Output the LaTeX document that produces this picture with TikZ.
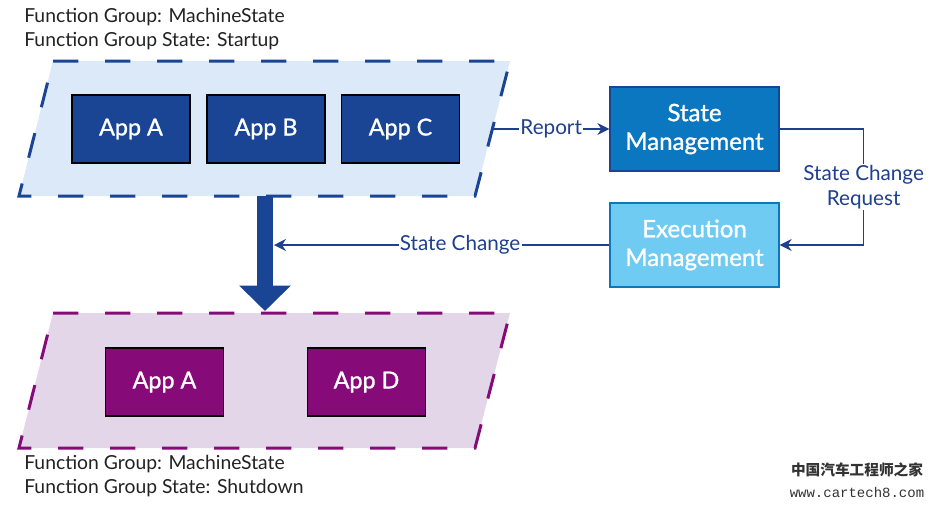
\documentclass[tikz,border=0pt]{standalone}
\usepackage{fontspec}
\setmainfont{Lato}
\setmonofont{Liberation Mono}
\newfontfamily\cjkfont{Noto Sans CJK SC}
\newfontfamily\boxfont{Lato}[FakeBold=1.2]
\usetikzlibrary{arrows.meta,positioning}
\definecolor{startupfill}{HTML}{DCE9F8}
\definecolor{startupblue}{HTML}{1A4594}
\definecolor{shutdownfill}{HTML}{E3D6E8}
\definecolor{shutdownpurple}{HTML}{870A79}
\definecolor{smfill}{HTML}{0B77C1}
\definecolor{emfill}{HTML}{6FCBF1}
\definecolor{linkblue}{HTML}{1F3F8F}
\definecolor{captiongray}{HTML}{222222}
\definecolor{markgray}{HTML}{333333}

\begin{document}
\begin{tikzpicture}[x=0.75pt,y=-0.75pt,
    group/.style={line width=2.25pt,dash pattern=on 19pt off 20pt},
    app/.style={draw=black,line width=1pt,minimum width=88.5pt,minimum height=51pt,
        inner sep=0pt,text=white,font=\boxfont\fontsize{17.5}{20}\selectfont},
    mgmt/.style={draw,line width=1pt,minimum width=126.75pt,minimum height=63pt,
        inner sep=0pt,align=center,text=white,font=\boxfont\fontsize{18}{21.5}\selectfont},
    link/.style={draw=linkblue,line width=0.9pt,-{Stealth[length=9pt,width=9pt]}},
    lbl/.style={fill=white,inner sep=1pt,text=linkblue,font=\fontsize{15.5}{18.5}\selectfont},
    caption/.style={anchor=west,align=left,inner sep=0pt,text=captiongray,
        font=\fontsize{14.5}{18}\selectfont}]

    \useasboundingbox (0,0) rectangle (936,508);

    \draw[group,draw=startupblue,fill=startupfill] (53,61) -- (510,61) -- (475,196) -- (19,196) -- cycle;
    \draw[group,draw=shutdownpurple,fill=shutdownfill] (53,313) -- (510,313) -- (475,448) -- (19,448) -- cycle;

    \node[caption] (startupcap) at (24,29) {Function Group: MachineState\\Function Group State: Startup};
    \node[caption] (shutdowncap) at (24,476) {Function Group: MachineState\\Function Group State: Shutdown};

    \node[app,fill=startupblue] (startupA) at (131,129) {App A};
    \node[app,fill=startupblue] (startupB) at (266,129) {App B};
    \node[app,fill=startupblue] (startupC) at (400.5,129) {App C};

    \node[app,fill=shutdownpurple] (shutdownA) at (164.5,382) {App A};
    \node[app,fill=shutdownpurple] (shutdownD) at (366.5,382) {App D};

    \node[mgmt,draw=startupblue,fill=smfill] (sm) at (694.5,129) {State\\Management};
    \node[mgmt,draw=smfill,fill=emfill] (em) at (694.5,245) {Execution\\Management};

    \coordinate (reportstart) at (493,129);
    \coordinate (switchstart) at (265,196);
    \coordinate (switchend) at (265,311);
    \coordinate (changeend) at (274,245);

    \draw[link] (reportstart) -- node[lbl] {Report} (sm.west);
    \draw[link] (sm.east) -- ++(84,0) |- node[lbl,pos=0.25,align=center] {State Change\\Request} (em.east);
    \draw[link] (em.west) -- node[lbl,pos=0.445] {State Change} (changeend);

    \draw[startupblue,line width=12pt,-{Triangle[length=19pt,width=37.5pt]}] (switchstart) -- (switchend);

    \node[text=markgray,font=\cjkfont\bfseries\fontsize{11}{12}\selectfont] (markcn) at (857,470) {中国汽车工程师之家};
    \node[text=markgray,font=\ttfamily\fontsize{10.5}{12}\selectfont] (markurl) at (857,492) {www.cartech8.com};

\end{tikzpicture}
\end{document}
